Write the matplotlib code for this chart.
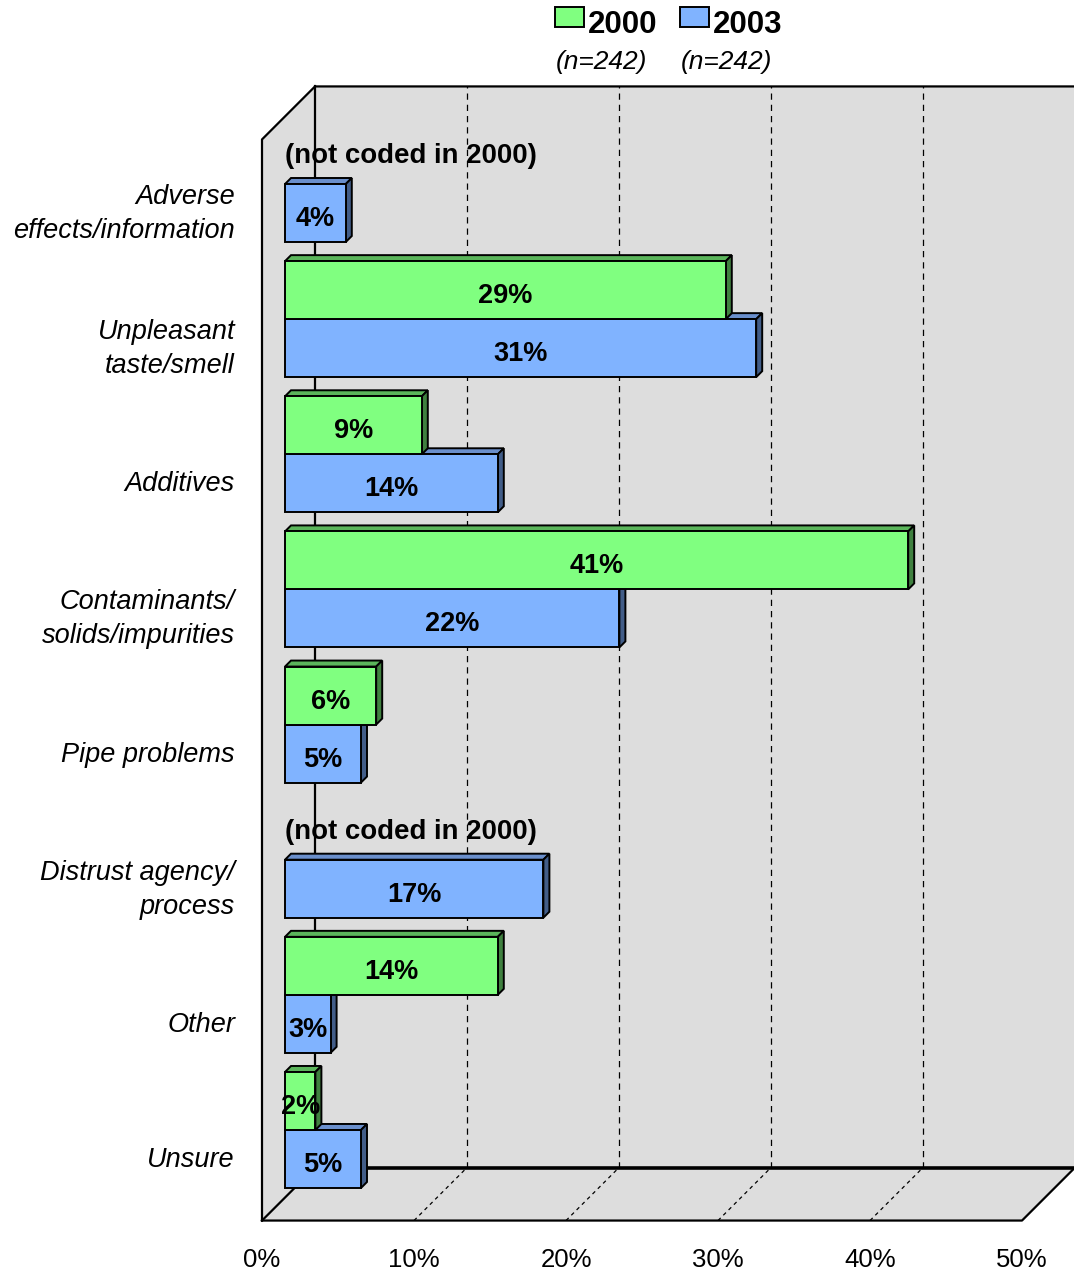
import numpy as np
import matplotlib.pyplot as plt
from matplotlib.patches import Polygon, Rectangle

plt.rcParams['font.family'] = ['Liberation Sans', 'DejaVu Sans']

categories = ["Adverse\neffects/information", "Unpleasant\ntaste/smell", "Additives",
              "Contaminants/\nsolids/impurities", "Pipe problems",
              "Distrust agency/\nprocess", "Other", "Unsure"]
vals_2000 = [None, 29, 9, 41, 6, None, 14, 2]
vals_2003 = [4, 31, 14, 22, 5, 17, 3, 5]
years = ["2000", "2003"]
sample_sizes = ["(n=242)", "(n=242)"]
xticks = [0, 10, 20, 30, 40, 50]

# layout of the oblique projection (pixels)
W, H = 1074, 1274
X0_PX, PX_PER_PCT = 285, 15.2
Y0_PX, PX_PER_ROW = 184, 135.14
BAR_H = 58 / PX_PER_ROW
BAR_DEPTH = 6
FRONT, BACK = -23, 30
XMAX = 50
Y_TOP, Y_BOT = -0.5, len(categories) - 0.5

green, green_top, green_side = "#80FF80", "#5BB55B", "#3F803F"
blue, blue_top, blue_side = "#80B3FF", "#6A8FCC", "#425D88"
wall = "#DDDDDD"


def shift(x, y, depth):
    # move a point of the bar plane back (+) or forward (-) in depth
    return x + depth / PX_PER_PCT, y - depth / PX_PER_ROW


fig = plt.figure(figsize=(W / 100, H / 100), dpi=100)
ax = fig.add_axes([0, 0, 1, 1])
ax.set_xlim(-X0_PX / PX_PER_PCT, (W - X0_PX) / PX_PER_PCT)
ax.set_ylim((H - Y0_PX) / PX_PER_ROW, -Y0_PX / PX_PER_ROW)
ax.axis("off")

# walls and floor
fl = shift(0, Y_TOP, FRONT)
fb = shift(0, Y_BOT, FRONT)
bl = shift(0, Y_TOP, BACK)
bb = shift(0, Y_BOT, BACK)
br_top = shift(XMAX + 10, Y_TOP, BACK)
br_bot = shift(XMAX, Y_BOT, BACK)
fr_bot = shift(XMAX, Y_BOT, FRONT)
ax.add_patch(Polygon([bl, br_top, (br_top[0], bb[1]), bb], closed=True,
                     fc=wall, ec="none", zorder=0))
ax.add_patch(Polygon([fl, bl, bb, fb], closed=True, fc=wall, ec="none", zorder=0))
ax.add_patch(Polygon([fb, bb, br_bot, fr_bot], closed=True, fc=wall, ec="none", zorder=0))

for t in xticks[1:-1]:
    gb = shift(t, Y_BOT, BACK)
    gt = shift(t, Y_TOP, BACK)
    gf = shift(t, Y_BOT, FRONT)
    ax.plot([gb[0], gt[0]], [gb[1], gt[1]], color="black", lw=0.9,
            dashes=(5, 4), zorder=1)
    ax.plot([gf[0], gb[0]], [gf[1], gb[1]], color="black", lw=0.9,
            dashes=(3, 3), zorder=1)

edge = dict(color="black", lw=1.6, solid_capstyle="projecting", zorder=2)
ax.plot([fb[0], fl[0], bl[0], br_top[0]], [fb[1], fl[1], bl[1], br_top[1]], **edge)
ax.plot([bl[0], bb[0]], [bl[1], bb[1]], **edge)
ax.plot([fb[0], bb[0]], [fb[1], bb[1]], **edge)
ax.plot([bb[0], br_bot[0]], [bb[1], br_bot[1]], color="black", lw=2.6, zorder=2)
ax.plot([fb[0], fr_bot[0], br_bot[0]], [fb[1], fr_bot[1], br_bot[1]], **edge)

PX = 1 / PX_PER_ROW  # one pixel in row units


def bar3d(v, y0, face, top, side):
    y1 = y0 + BAR_H
    kw = dict(closed=True, ec="black", lw=1.4, zorder=3, joinstyle="miter")
    ax.add_patch(Polygon([(0, y0), (v, y0), shift(v, y0, BAR_DEPTH),
                          shift(0, y0, BAR_DEPTH)], fc=top, **kw))
    ax.add_patch(Polygon([(v, y0), shift(v, y0, BAR_DEPTH),
                          shift(v, y1, BAR_DEPTH), (v, y1)], fc=side, **kw))
    ax.add_patch(Rectangle((0, y0), v, BAR_H, fc=face, ec="black", lw=1.4,
                           zorder=3, joinstyle="miter"))
    ax.text(v / 2, y0 + BAR_H / 2 + 6 * PX, f"{v}%", ha="center", va="center",
            fontsize=19.5, fontweight="bold", zorder=5)


for i, cat in enumerate(categories):
    if vals_2003[i] is not None:
        bar3d(vals_2003[i], i, blue, blue_top, blue_side)
    if vals_2000[i] is not None:
        bar3d(vals_2000[i], i - BAR_H, green, green_top, green_side)
    else:
        ax.text(0, i - BAR_H / 2 + 1 * PX, "(not coded in 2000)", ha="left",
                va="center", fontsize=19.9, fontweight="bold", zorder=5)
    lx, ly = shift(0, i, FRONT)
    ax.text(lx - 27 / PX_PER_PCT, i + 30 * PX, cat, ha="right",
            va="center", fontsize=19.5, style="italic", linespacing=1.4)

for t in xticks:
    tx, ty = shift(t, Y_BOT, FRONT)
    ax.text(tx, ty + 39 * PX, f"{t}%", ha="center", va="center",
            fontsize=18.5)

# legend across the top
for k, (yr, n, col) in enumerate(zip(years, sample_sizes, [green, blue])):
    x = 555 + 125 * k
    fig.patches.append(Rectangle((x / W, 1 - 27 / H), 29 / W, 20 / H,
                                 transform=fig.transFigure, fc=col,
                                 ec="black", lw=1.4))
    fig.text((x + 33) / W, 1 - 25 / H, yr, ha="left", va="center",
             fontsize=22.5, fontweight="bold")
    fig.text((x + 46) / W, 1 - 62 / H, n, ha="center", va="center",
             fontsize=19, style="italic")

fig.savefig("out.png", dpi=100)
